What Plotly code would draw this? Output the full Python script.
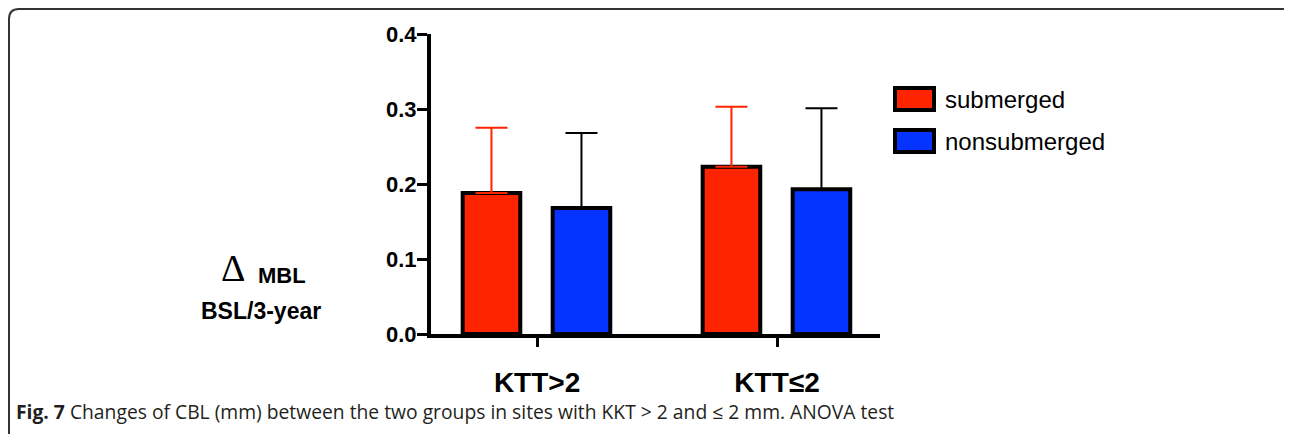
import plotly.graph_objects as go

categories = ["KTT>2", "KTT≤2"]
series_names = ["submerged", "nonsubmerged"]
submerged = [0.188, 0.223]
submerged_err = [0.087, 0.080]
nonsubmerged = [0.168, 0.193]
nonsubmerged_err = [0.100, 0.108]
y_ticks = [0.0, 0.1, 0.2, 0.3, 0.4]

RED = "#ff2400"
BLUE = "#0533ff"
O = 8  # page body margin offset
W, H = 1292 - O, 434 - O
L, T = 431 - O, 34 - O
R = W - (880 - O)
B = H - (334 - O)
PW, PH = W - L - R, H - T - B


def px(x):
    return (x - O - L) / PW


def py(y):
    return (H - B - (y - O)) / PH


fig = go.Figure()
fig.add_trace(go.Bar(
    x=categories, y=submerged, name=series_names[0],
    offset=-0.31, width=0.24,
    marker=dict(color=RED, line=dict(color="black", width=4)),
    error_y=dict(type="data", array=submerged_err, arrayminus=[0, 0], symmetric=False,
                 color=RED, thickness=2, width=16),
    showlegend=False,
))
fig.add_trace(go.Bar(
    x=categories, y=nonsubmerged, name=series_names[1],
    offset=0.065, width=0.24,
    marker=dict(color=BLUE, line=dict(color="black", width=4)),
    error_y=dict(type="data", array=nonsubmerged_err, arrayminus=[0, 0], symmetric=False,
                 color="black", thickness=2, width=16),
    showlegend=False,
))

font_main = "Liberation Sans, Arial, sans-serif"

fig.update_layout(
    width=W, height=H,
    margin=dict(l=L, r=R, t=T, b=B, pad=0),
    paper_bgcolor="white", plot_bgcolor="white",
    barmode="overlay",
    font=dict(family=font_main, color="black"),
    xaxis=dict(
        type="category", categoryorder="array", categoryarray=categories,
        range=[-0.442, 1.429], showgrid=False, zeroline=False,
        showline=True, linewidth=4, linecolor="black",
        ticks="outside", ticklen=9, tickwidth=3, tickcolor="black",
        tickfont=dict(family=font_main, size=28, color="black", weight="bold"),
        ticklabelstandoff=11,
    ),
    yaxis=dict(
        range=[0, 0.4], tickvals=y_ticks, tickformat=".1f",
        showgrid=False, zeroline=False,
        showline=True, linewidth=4, linecolor="black",
        ticks="outside", ticklen=10, tickwidth=3, tickcolor="black",
        tickfont=dict(family=font_main, size=22, color="black", weight="bold"),
        ticklabelstandoff=-4,
    ),
)

shapes = []
# legend boxes
for i, (c, name) in enumerate(zip([RED, BLUE], series_names)):
    y0, y1 = 88 + 42 * i, 110 + 42 * i
    shapes.append(dict(type="rect", xref="paper", yref="paper",
                       x0=px(895), x1=px(934), y0=py(y1), y1=py(y0),
                       fillcolor=c, line=dict(color="black", width=4)))
    fig.add_annotation(xref="paper", yref="paper", x=px(943), y=py((y0 + y1) / 2),
                       text=name, showarrow=False, xanchor="left", yanchor="middle",
                       font=dict(family=font_main, size=24, color="black"))

# rounded frame
xl, xr, yt, yb = 9, 1300, 9, 440
r = 10
path = (f"M {px(xl)},{py(yb)} L {px(xl)},{py(yt + r)} "
        f"Q {px(xl)},{py(yt)} {px(xl + r)},{py(yt)} "
        f"L {px(xr - r)},{py(yt)} Q {px(xr)},{py(yt)} {px(xr)},{py(yt + r)}")
shapes.append(dict(type="path", xref="paper", yref="paper", path=path,
                   line=dict(color="#333333", width=2)))
fig.update_layout(shapes=shapes)

# y-axis title
fig.add_annotation(xref="paper", yref="paper", x=px(247), y=py(268),
                   text="Δ", showarrow=False, xanchor="right", yanchor="middle",
                   font=dict(family="Liberation Serif, serif", size=38, color="black"))
fig.add_annotation(xref="paper", yref="paper", x=px(256), y=py(275),
                   text="<b>MBL</b>", showarrow=False, xanchor="left", yanchor="middle",
                   font=dict(family=font_main, size=22, color="black"))
fig.add_annotation(xref="paper", yref="paper", x=px(261), y=py(311),
                   text="<b>BSL/3-year</b>", showarrow=False, xanchor="center", yanchor="middle",
                   font=dict(family=font_main, size=23, color="black"))

# caption
fig.add_annotation(xref="paper", yref="paper", x=px(14), y=py(411),
                   text="<b>Fig. 7</b> Changes of CBL (mm) between the two groups in sites with KKT &gt; 2 and ≤ 2 mm. ANOVA test",
                   showarrow=False, xanchor="left", yanchor="middle",
                   font=dict(family="Open Sans, sans-serif", size=19.3, color="#231f20"))

fig.write_html("out.html")
